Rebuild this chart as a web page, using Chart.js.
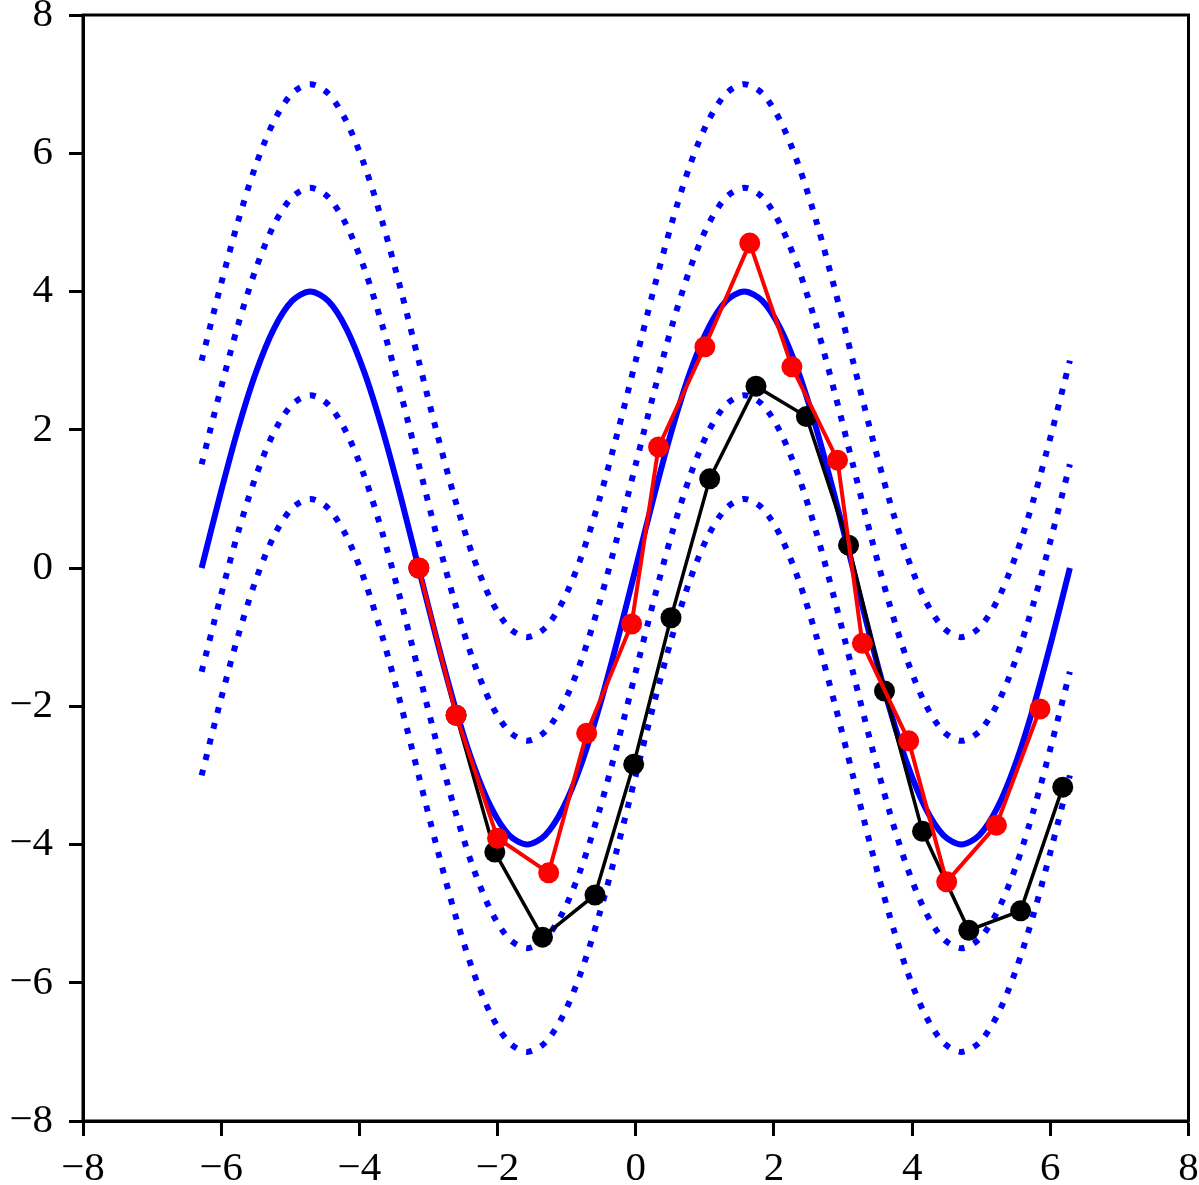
<!DOCTYPE html>
<html>
<head>
<meta charset="utf-8">
<script src="https://cdn.jsdelivr.net/npm/chart.js@4.4.0/dist/chart.umd.min.js"></script>
<style>
    body { margin: 0; background: #fff; }
    #wrap { width: 1199px; height: 1185px; }
</style>
</head>
<body>
<div id="wrap"><canvas id="plot" width="1199" height="1185"></canvas></div>
<script>
// sample points of the curves (x in radians, step pi/12)
const curveX = [-6.283, -6.021, -5.760, -5.498, -5.236, -4.974, -4.712, -4.451, -4.189, -3.927, -3.665, -3.403,
    -3.142, -2.880, -2.618, -2.356, -2.094, -1.833, -1.571, -1.309, -1.047, -0.785, -0.524, -0.262,
    0, 0.262, 0.524, 0.785, 1.047, 1.309, 1.571, 1.833, 2.094, 2.356, 2.618, 2.880,
    3.142, 3.403, 3.665, 3.927, 4.189, 4.451, 4.712, 4.974, 5.236, 5.498, 5.760, 6.021, 6.283];

const curveMid = [0, 1.035, 2.0, 2.828, 3.464, 3.864, 4.0, 3.864, 3.464, 2.828, 2.0, 1.035,
    0, -1.035, -2.0, -2.828, -3.464, -3.864, -4.0, -3.864, -3.464, -2.828, -2.0, -1.035,
    0, 1.035, 2.0, 2.828, 3.464, 3.864, 4.0, 3.864, 3.464, 2.828, 2.0, 1.035,
    0, -1.035, -2.0, -2.828, -3.464, -3.864, -4.0, -3.864, -3.464, -2.828, -2.0, -1.035, 0];

const curveUp1 = [1.5, 2.535, 3.5, 4.328, 4.964, 5.364, 5.5, 5.364, 4.964, 4.328, 3.5, 2.535,
    1.5, 0.465, -0.5, -1.328, -1.964, -2.364, -2.5, -2.364, -1.964, -1.328, -0.5, 0.465,
    1.5, 2.535, 3.5, 4.328, 4.964, 5.364, 5.5, 5.364, 4.964, 4.328, 3.5, 2.535,
    1.5, 0.465, -0.5, -1.328, -1.964, -2.364, -2.5, -2.364, -1.964, -1.328, -0.5, 0.465, 1.5];

const curveUp2 = [3.0, 4.035, 5.0, 5.828, 6.464, 6.864, 7.0, 6.864, 6.464, 5.828, 5.0, 4.035,
    3.0, 1.965, 1.0, 0.172, -0.464, -0.864, -1.0, -0.864, -0.464, 0.172, 1.0, 1.965,
    3.0, 4.035, 5.0, 5.828, 6.464, 6.864, 7.0, 6.864, 6.464, 5.828, 5.0, 4.035,
    3.0, 1.965, 1.0, 0.172, -0.464, -0.864, -1.0, -0.864, -0.464, 0.172, 1.0, 1.965, 3.0];

const curveDn1 = [-1.5, -0.465, 0.5, 1.328, 1.964, 2.364, 2.5, 2.364, 1.964, 1.328, 0.5, -0.465,
    -1.5, -2.535, -3.5, -4.328, -4.964, -5.364, -5.5, -5.364, -4.964, -4.328, -3.5, -2.535,
    -1.5, -0.465, 0.5, 1.328, 1.964, 2.364, 2.5, 2.364, 1.964, 1.328, 0.5, -0.465,
    -1.5, -2.535, -3.5, -4.328, -4.964, -5.364, -5.5, -5.364, -4.964, -4.328, -3.5, -2.535, -1.5];

const curveDn2 = [-3.0, -1.965, -1.0, -0.172, 0.464, 0.864, 1.0, 0.864, 0.464, -0.172, -1.0, -1.965,
    -3.0, -4.035, -5.0, -5.828, -6.464, -6.864, -7.0, -6.864, -6.464, -5.828, -5.0, -4.035,
    -3.0, -1.965, -1.0, -0.172, 0.464, 0.864, 1.0, 0.864, 0.464, -0.172, -1.0, -1.965,
    -3.0, -4.035, -5.0, -5.828, -6.464, -6.864, -7.0, -6.864, -6.464, -5.828, -5.0, -4.035, -3.0];

// red samples
const redX = [-3.14, -2.60, -2.00, -1.26, -0.71, -0.06, 0.33, 1.00, 1.65, 2.26, 2.92, 3.28, 3.95, 4.50, 5.22, 5.85];
const redY = [0, -2.13, -3.91, -4.41, -2.39, -0.81, 1.75, 3.20, 4.70, 2.91, 1.56, -1.09, -2.50, -4.54, -3.72, -2.04];

// black samples
const blackX = [-3.14, -2.60, -2.04, -1.35, -0.59, -0.03, 0.51, 1.07, 1.74, 2.47, 3.08, 3.60, 4.15, 4.82, 5.57, 6.18];
const blackY = [0, -2.13, -4.11, -5.34, -4.73, -2.84, -0.72, 1.29, 2.63, 2.19, 0.33, -1.78, -3.81, -5.24, -4.96, -3.17];

const tickValues = [-8, -6, -4, -2, 0, 2, 4, 6, 8];

function pairs(xs, ys) {
    return xs.map((x, i) => ({ x: x, y: ys[i] }));
}

function curveSet(ys, dotted) {
    return {
        data: pairs(curveX, ys),
        borderColor: '#0000ff',
        borderWidth: 6,
        borderDash: dotted ? [6, 10] : [],
        borderCapStyle: 'butt',
        pointRadius: 0,
        showLine: true,
        tension: 0.3,
        order: 3
    };
}

function markerSet(xs, ys, color, width, ord) {
    return {
        data: pairs(xs, ys),
        borderColor: color,
        backgroundColor: color,
        borderWidth: width,
        pointRadius: 10.5,
        pointBorderWidth: 0,
        pointBackgroundColor: color,
        showLine: true,
        tension: 0,
        order: ord
    };
}

function minusLabel(v) {
    return String(v).replace('-', '\u2212');
}

// no extra room for labels hanging over the plot edges
function noOverhang(scale) {
    scale.paddingTop = 0;
    scale.paddingBottom = 0;
    scale.paddingLeft = 0;
    scale.paddingRight = 0;
}

const tickFont = { family: "'Liberation Serif', 'DejaVu Serif', serif", size: 41, lineHeight: 1 };

const framePlugin = {
    id: 'frame',
    afterDraw(chart) {
        const a = chart.chartArea;
        const ctx = chart.ctx;
        ctx.save();
        ctx.strokeStyle = '#000';
        ctx.lineWidth = 3;
        ctx.strokeRect(a.left, a.top, a.right - a.left, a.bottom - a.top);
        ctx.restore();
    }
};

const ctx = document.getElementById('plot').getContext('2d');
new Chart(ctx, {
    type: 'scatter',
    data: {
        datasets: [
            markerSet(redX, redY, '#ff0000', 4, 0),
            markerSet(blackX, blackY, '#000000', 3.5, 1),
            curveSet(curveMid, false),
            curveSet(curveUp1, true),
            curveSet(curveUp2, true),
            curveSet(curveDn1, true),
            curveSet(curveDn2, true)
        ]
    },
    options: {
        responsive: false,
        animation: false,
        devicePixelRatio: 1,
        layout: { padding: { top: 15, right: 10, left: 0, bottom: 0 } },
        plugins: { legend: { display: false }, tooltip: { enabled: false } },
        scales: {
            x: {
                type: 'linear',
                min: -8,
                max: 8,
                afterBuildTicks(scale) { scale.ticks = tickValues.map(v => ({ value: v })); },
                afterFit(scale) { scale.height = 64; noOverhang(scale); },
                grid: { drawOnChartArea: false, tickLength: 15, tickWidth: 3, color: '#000' },
                border: { color: '#000', width: 3 },
                ticks: { color: '#000', font: tickFont, padding: 13, maxRotation: 0, autoSkip: false, callback: minusLabel }
            },
            y: {
                type: 'linear',
                min: -8,
                max: 8,
                afterBuildTicks(scale) { scale.ticks = tickValues.map(v => ({ value: v })); },
                afterFit(scale) { scale.width = 83; noOverhang(scale); },
                grid: { drawOnChartArea: false, tickLength: 14, tickWidth: 3, color: '#000' },
                border: { color: '#000', width: 3 },
                ticks: { color: '#000', font: tickFont, padding: 16, autoSkip: false, callback: minusLabel }
            }
        }
    },
    plugins: [framePlugin]
});
</script>
</body>
</html>
